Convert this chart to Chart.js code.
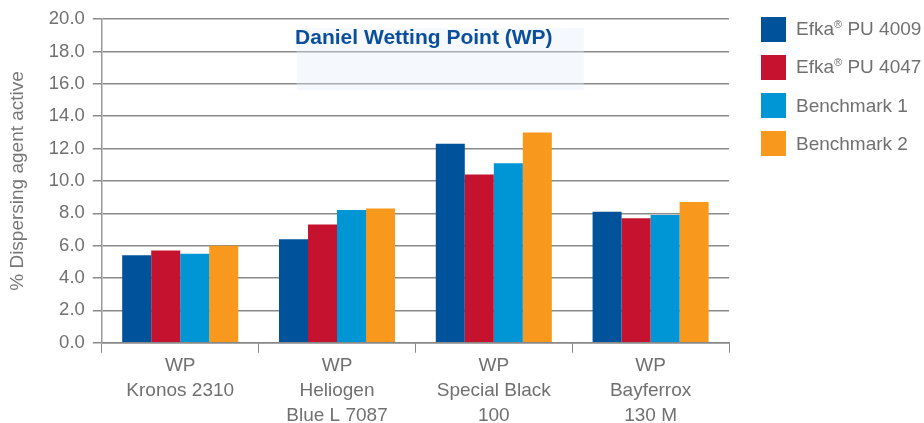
<!DOCTYPE html>
<html>
<head>
<meta charset="utf-8">
<script src="https://cdn.jsdelivr.net/npm/chart.js@4"></script>
<style>
  html, body { margin: 0; padding: 0; background: #fff; }
  #wrap { position: relative; width: 924px; height: 423px; }
  #legend { position: absolute; left: 761px; top: 17px; font-family: "Liberation Sans", Arial, sans-serif; font-size: 19px; color: #707070; }
  #legend .item { display: flex; align-items: center; height: 25px; margin-bottom: 13px; white-space: nowrap; }
  #legend .box { width: 25px; height: 25px; margin-right: 10px; flex: none; }
  #legend sup { font-size: 11px; }
</style>
</head>
<body>
<div id="wrap">
  <canvas id="chart" width="924" height="423"></canvas>
  <div id="legend"></div>
</div>
<script>
// chart data
const categories = [
    ['WP', 'Kronos 2310'],
    ['WP', 'Heliogen', 'Blue L 7087'],
    ['WP', 'Special Black', '100'],
    ['WP', 'Bayferrox', '130 M']
];
const seriesNames = ['Efka® PU 4009', 'Efka® PU 4047', 'Benchmark 1', 'Benchmark 2'];
const pu4009 = [5.4, 6.4, 12.3, 8.1];
const pu4047 = [5.7, 7.3, 10.4, 7.7];
const bench1 = [5.5, 8.2, 11.1, 7.9];
const bench2 = [6.0, 8.3, 13.0, 8.7];
const colors = ['#00529b', '#c5122f', '#0096d6', '#f8981d'];
const yTicks = [0, 2, 4, 6, 8, 10, 12, 14, 16, 18, 20];

const seriesValues = [pu4009, pu4047, bench1, bench2];
const fontFamily = '"Liberation Sans", Arial, sans-serif';

// HTML legend so the ® can be a superscript
const legendEl = document.getElementById('legend');
seriesNames.forEach(function (name, i) {
    const item = document.createElement('div');
    item.className = 'item';
    const box = document.createElement('div');
    box.className = 'box';
    box.style.background = colors[i];
    const txt = document.createElement('span');
    txt.innerHTML = name.replace('®', '<sup>®</sup>');
    item.appendChild(box);
    item.appendChild(txt);
    legendEl.appendChild(item);
});

// title box drawn inside the plot area
const titlePlugin = {
    id: 'innerTitle',
    beforeDatasetsDraw(chart) {
        const a = chart.chartArea;
        const ctx = chart.ctx;
        ctx.save();
        ctx.fillStyle = 'rgba(225, 238, 250, 0.35)';
        ctx.fillRect(a.left + 195, a.top + 9, 287, 62);
        ctx.restore();
    },
    afterDraw(chart) {
        const a = chart.chartArea;
        const ctx = chart.ctx;
        ctx.save();
        ctx.font = 'bold 21px ' + fontFamily;
        ctx.fillStyle = '#0b4f9c';
        ctx.textAlign = 'center';
        ctx.textBaseline = 'middle';
        ctx.fillText('Daniel Wetting Point (WP)', a.left + 322, a.top + 19);
        ctx.restore();
    }
};

const ctx = document.getElementById('chart').getContext('2d');
const chart = new Chart(ctx, {
    type: 'bar',
    data: {
        labels: categories,
        datasets: seriesValues.map(function (vals, i) {
            return {
                label: seriesNames[i],
                data: vals,
                backgroundColor: colors[i],
                borderWidth: 0,
                categoryPercentage: 0.74,
                barPercentage: 1.0
            };
        })
    },
    options: {
        responsive: false,
        animation: false,
        layout: { padding: { top: 8, right: 195, bottom: -5, left: 6 } },
        plugins: {
            legend: { display: false },
            tooltip: { enabled: false }
        },
        scales: {
            x: {
                grid: {
                    display: true,
                    offset: true,
                    drawOnChartArea: false,
                    drawTicks: true,
                    tickLength: 10,
                    color: '#888'
                },
                border: { color: '#888', width: 1.5 },
                ticks: {
                    color: '#707070',
                    font: { family: fontFamily, size: 19, lineHeight: 1.32 },
                    maxRotation: 0,
                    padding: 0
                }
            },
            y: {
                min: 0,
                max: 20,
                afterBuildTicks: function (axis) {
                    axis.ticks = yTicks.map(function (v) { return { value: v }; });
                },
                grid: {
                    color: '#8a8a8a',
                    lineWidth: 1.5,
                    drawTicks: true,
                    tickLength: 9
                },
                border: { color: '#999', width: 1.5 },
                ticks: {
                    color: '#707070',
                    font: { family: fontFamily, size: 18.5 },
                    padding: 8,
                    callback: function (v) { return Number(v).toFixed(1); }
                },
                title: {
                    display: true,
                    text: '% Dispersing agent active',
                    color: '#777',
                    font: { family: fontFamily, size: 19 },
                    padding: { top: 0, bottom: 12 }
                }
            }
        }
    },
    plugins: [titlePlugin]
});
</script>
</body>
</html>
